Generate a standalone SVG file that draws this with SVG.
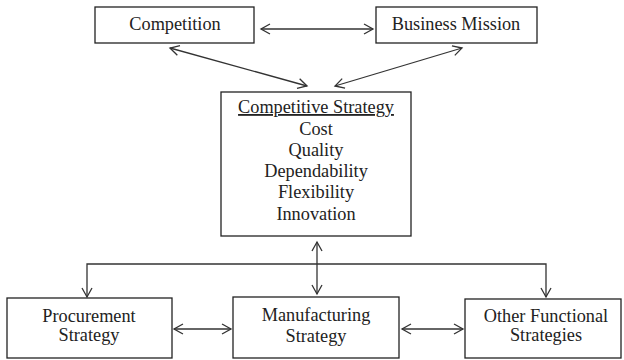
<svg xmlns="http://www.w3.org/2000/svg" width="624" height="360" viewBox="0 0 624 360">
<style>
.box{fill:#fff;stroke:#222;stroke-width:1.3}
.t{font-family:"Liberation Serif","Times New Roman",serif;font-size:18.3px;fill:#222;text-anchor:middle}
.c{fill:none;stroke:#333;stroke-width:1.3;marker-end:url(#ah)}
.d{marker-start:url(#ahs)}
</style>
<defs>
<marker id="ah" viewBox="-10 -6 12 12" refX="0" refY="0" markerWidth="12" markerHeight="12" markerUnits="userSpaceOnUse" orient="auto">
<path d="M-9,-5 L0,0 L-9,5" fill="none" stroke="#333" stroke-width="1.3"/>
</marker>
<marker id="ahs" viewBox="-2 -6 12 12" refX="0" refY="0" markerWidth="12" markerHeight="12" markerUnits="userSpaceOnUse" orient="auto">
<path d="M9,-5 L0,0 L9,5" fill="none" stroke="#333" stroke-width="1.3"/>
</marker>
</defs>
<g id="connectors">
<line class="c d" x1="261" y1="29" x2="373" y2="29"/>
<line class="c d" x1="170" y1="48" x2="307" y2="86"/>
<line class="c d" x1="462" y1="48" x2="335" y2="86"/>
<line class="c d" x1="317" y1="242" x2="317" y2="294"/>
<polyline class="c" points="317,264 87,264 87,297"/>
<polyline class="c" points="317,264 546,264 546,297"/>
<line class="c d" x1="174" y1="329" x2="231" y2="329"/>
<line class="c d" x1="402" y1="329" x2="463" y2="329"/>
</g>
<g id="competition">
<rect class="box" x="95" y="7" width="159" height="36"/>
<text class="t" x="175" y="30">Competition</text>
</g>
<g id="business-mission">
<rect class="box" x="376" y="7" width="161" height="36"/>
<text class="t" x="456" y="30">Business Mission</text>
</g>
<g id="competitive-strategy">
<rect class="box" x="221" y="92" width="190" height="144"/>
<text class="t" x="316" y="113" text-decoration="underline">Competitive Strategy</text>
<text class="t" x="316" y="135">Cost</text>
<text class="t" x="316" y="156">Quality</text>
<text class="t" x="316" y="177">Dependability</text>
<text class="t" x="316" y="198">Flexibility</text>
<text class="t" x="316" y="220">Innovation</text>
</g>
<g id="procurement">
<rect class="box" x="7" y="298" width="165" height="60"/>
<text class="t" x="89" y="322">Procurement</text>
<text class="t" x="89" y="341">Strategy</text>
</g>
<g id="manufacturing">
<rect class="box" x="233" y="297" width="166" height="61"/>
<text class="t" x="316" y="321">Manufacturing</text>
<text class="t" x="316" y="342">Strategy</text>
</g>
<g id="other-functional">
<rect class="box" x="465" y="299" width="156" height="59"/>
<text class="t" x="546" y="322">Other Functional</text>
<text class="t" x="546" y="341">Strategies</text>
</g>
</svg>
